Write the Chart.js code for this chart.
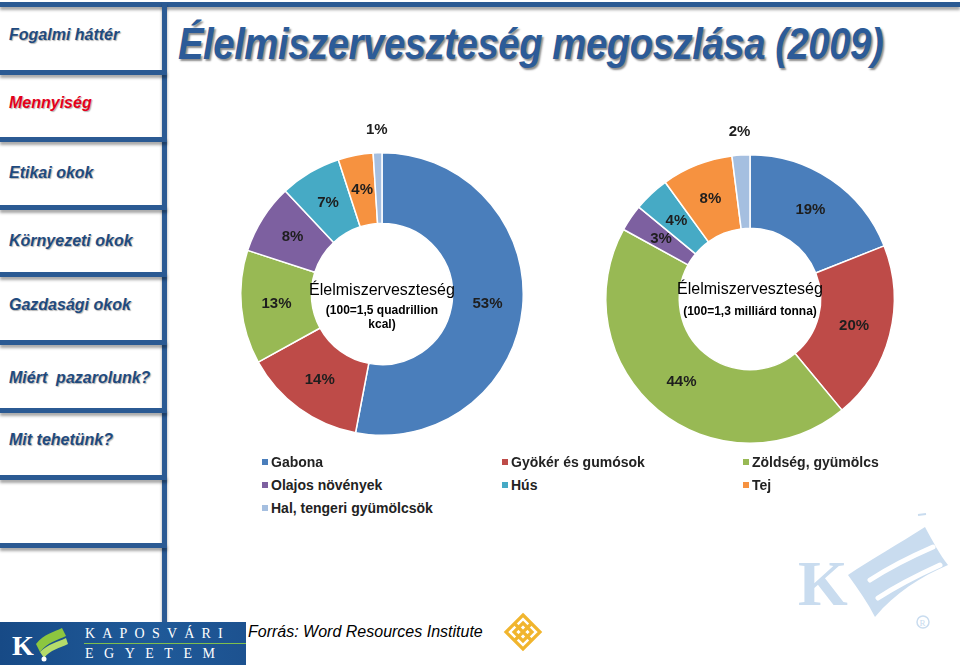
<!DOCTYPE html>
<html lang="hu">
<head>
<meta charset="utf-8">
<script src="https://cdn.jsdelivr.net/npm/chart.js@4.4.1/dist/chart.umd.min.js"></script>
<style>
  html,body{margin:0;padding:0;background:#fff;}
  body{width:960px;height:667px;position:relative;overflow:hidden;font-family:"Liberation Sans",Arial,sans-serif;}
  .bar{position:absolute;background:#2b5a93;box-shadow:0 3px 3px rgba(0,0,0,0.35);}
  .menu{position:absolute;left:9px;font:italic bold 16px "Liberation Sans",Arial,sans-serif;color:#1f4a7e;text-shadow:1px 1px 1px rgba(0,0,0,0.3);white-space:nowrap;transform:translateY(-50%);}
  #title{position:absolute;left:178px;top:19px;font:italic bold 44px "Liberation Sans",Arial,sans-serif;color:#2c5b98;white-space:nowrap;transform-origin:0 0;transform:scaleX(0.87);text-shadow:2px 2px 2px rgba(0,0,0,0.45);letter-spacing:-0.5px;}
  canvas{position:absolute;}
  .leg{position:absolute;font:bold 14px "Liberation Sans",Arial,sans-serif;color:#222;white-space:nowrap;transform:translateY(-50%);}
  .leg i{display:inline-block;width:6px;height:6px;margin-right:3px;vertical-align:middle;position:relative;top:-1px;}
  #src{position:absolute;left:248px;top:623px;font:italic 16px "Liberation Sans",Arial,sans-serif;color:#000;white-space:nowrap;}
  #logo{position:absolute;left:0;top:622px;width:246px;height:43px;background:linear-gradient(90deg,#174a86,#1f5a99 60%,#1d5290);}
  .lt{position:absolute;left:85px;font:14px "Liberation Serif","Times New Roman",serif;color:#fff;white-space:nowrap;}
</style>
</head>
<body>
<!-- frame -->
<div class="bar" style="left:0;top:2px;width:960px;height:5px;"></div>
<div class="bar" style="left:162px;top:2px;width:5px;height:621px;"></div>
<div id="bars"></div>
<div id="menu"></div>
<div id="title">Élelmiszerveszteség megoszlása (2009)</div>

<canvas id="c1" width="360" height="360" style="left:202px;top:114px;width:360px;height:360px;"></canvas>
<canvas id="c2" width="360" height="360" style="left:570px;top:119px;width:360px;height:360px;"></canvas>

<div id="legend"></div>

<div id="logo">
  <svg width="80" height="43" style="position:absolute;left:0;top:0">
    <text x="12" y="33" font-family="Liberation Serif,serif" font-weight="bold" font-size="28" fill="#fff">K</text>
    <path d="M36 22 C44 12,54 10,62 6 L66 14 C58 18,48 20,40 30 Z" fill="#8cc63f"/>
    <path d="M40 30 C48 22,58 20,66 16 L68 22 C60 26,50 28,44 36 Z" fill="#b5dc6a"/>
    <circle cx="44" cy="37" r="2.5" fill="#fff"/>
  </svg>
  <div class="lt" style="top:4px;letter-spacing:7.2px;">KAPOSVÁRI</div>
  <div style="position:absolute;left:84px;top:21px;width:162px;height:1px;background:#7fbf4d;"></div>
  <div class="lt" style="top:24px;letter-spacing:10.5px;">EGYETEM</div>
</div>
<div id="src">Forrás: Word Resources Institute</div>
<svg width="40" height="40" style="position:absolute;left:503px;top:612px" viewBox="0 0 40 40">
  <g fill="none" stroke="#f1b52e" stroke-width="3.2">
    <path d="M20 3 L37 20 L20 37 L3 20 Z"/>
    <path d="M11.5 11.5 L28.5 28.5 M28.5 11.5 L11.5 28.5"/>
    <path d="M20 11 L29 20 L20 29 L11 20 Z"/>
  </g>
</svg>
<!-- watermark logo -->
<svg width="170" height="140" style="position:absolute;left:790px;top:505px" viewBox="0 0 170 140">
  <text x="8" y="100" font-family="Liberation Serif,serif" font-weight="bold" font-size="64" fill="#c9dcef">K</text>
  <path d="M58 70 C80 55,110 38,135 22 C142 35,150 50,158 60 C130 72,105 88,85 112 C78 98,68 84,58 70 Z" fill="#c9dcef"/>
  <path d="M80 75 C100 62,120 52,143 42" stroke="#fff" stroke-width="5" fill="none" stroke-linecap="round"/>
  <path d="M88 93 C108 80,128 70,150 60" stroke="#fff" stroke-width="5" fill="none" stroke-linecap="round"/>
  <path d="M128 10 L136 9" stroke="#c9dcef" stroke-width="2"/>
  <circle cx="133" cy="117" r="6" fill="none" stroke="#c9dcef" stroke-width="1.5"/>
  <text x="129.5" y="121" font-size="9" fill="#c9dcef" font-family="Liberation Serif,serif">R</text>
</svg>

<script>
// ---- data ----
const categories = ["Gabona","Gyökér és gumósok","Zöldség, gyümölcs","Olajos növények","Hús","Tej","Hal, tengeri gyümölcsök"];
const kcalShares = [53,14,13,8,7,4,1];
const tonnaShares = [19,20,44,3,4,8,2];
const sliceColors = ["#4a7ebb","#be4b48","#98b954","#7d60a0","#46aac5","#f69240","#a5bfe0"];
const centerText1 = ["Élelmiszerveszteség","(100=1,5 quadrillion","kcal)"];
const centerText2 = ["Élelmiszerveszteség","(100=1,3 milliárd tonna)"];
const menuItems = ["Fogalmi háttér","Mennyiség","Etikai okok","Környezeti okok","Gazdasági okok","Miért  pazarolunk?","Mit tehetünk?"];
const activeMenu = 1;

// ---- slide frame ----
const menuY = [35,103,173,241,305,378,440];
const sepY = [70,137,205,272,340,408,475,543];
const bars = document.getElementById('bars');
sepY.forEach(y=>{const d=document.createElement('div');d.className='bar';d.style.cssText=`left:0;top:${y}px;width:167px;height:5px;`;bars.appendChild(d);});
const menu = document.getElementById('menu');
menuItems.forEach((t,i)=>{const d=document.createElement('div');d.className='menu';d.textContent=t;d.style.top=menuY[i]+'px';d.style.whiteSpace='pre';if(i===activeMenu){d.style.color='#e3001b';}menu.appendChild(d);});

// ---- legend ----
const legX = [262,502,743], legY=[462,485,508];
const legend = document.getElementById('legend');
categories.forEach((c,i)=>{const d=document.createElement('div');d.className='leg';d.style.left=legX[i%3]+'px';d.style.top=legY[Math.floor(i/3)]+'px';d.innerHTML=`<i style="background:${sliceColors[i]}"></i>`;d.appendChild(document.createTextNode(c));legend.appendChild(d);});

// ---- label plugin ----
const labelPlugin = {
  id:'sliceLabels',
  afterDatasetsDraw(chart, args, opts){
    const ctx = chart.ctx;
    const meta = chart.getDatasetMeta(0);
    const data = chart.data.datasets[0].data;
    ctx.save();
    ctx.font = 'bold 15px "Liberation Sans", Arial, sans-serif';
    ctx.fillStyle = '#1e1e1e';
    ctx.textAlign='center'; ctx.textBaseline='middle';
    meta.data.forEach((arc,i)=>{
      const p = arc.getProps(['x','y','startAngle','endAngle','innerRadius','outerRadius'],true);
      const a = (p.startAngle+p.endAngle)/2;
      const r = data[i] <= opts.outsideMax ? p.outerRadius + 23 : (p.innerRadius+p.outerRadius)/2;
      ctx.fillText(data[i]+'%', p.x + Math.cos(a)*r, p.y + Math.sin(a)*r);
    });
    // center text
    const cx = meta.data[0].x, cy = meta.data[0].y;
    opts.center.forEach((t,k)=>{
      ctx.font = k===0 ? '16px "Liberation Sans", Arial, sans-serif' : 'bold 12px "Liberation Sans", Arial, sans-serif';
      ctx.fillStyle = '#000';
      ctx.fillText(t, cx, cy + opts.lineDy[k]);
    });
    ctx.restore();
  }
};

function makeChart(id, values, cutout, pad, center, lineDy){
  return new Chart(document.getElementById(id), {
    type:'doughnut',
    data:{labels:categories, datasets:[{data:values, backgroundColor:sliceColors, borderColor:'#ffffff', borderWidth:1.5}]},
    options:{
      responsive:false, animation:false, cutout:cutout,
      layout:{padding:pad},
      plugins:{legend:{display:false}, tooltip:{enabled:false},
        sliceLabels:{outsideMax:2, center:center, lineDy:lineDy}}
    },
    plugins:[labelPlugin]
  });
}
makeChart('c1', kcalShares, '50%', 38, centerText1, [-3,17,31]);
makeChart('c2', tonnaShares, '49%', 35, centerText2, [-9,13]);
</script>
</body>
</html>
